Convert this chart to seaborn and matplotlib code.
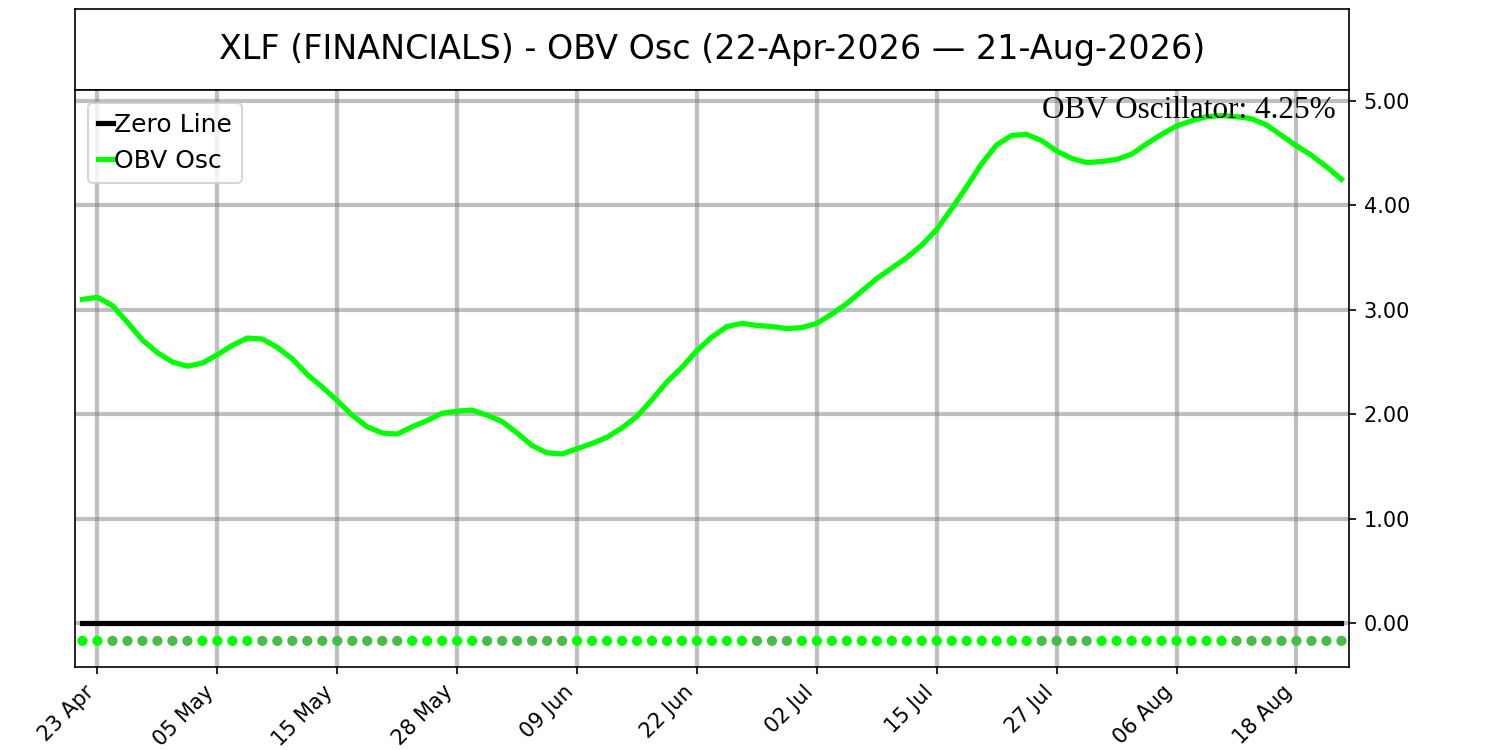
import numpy as np
import pandas as pd
import matplotlib
matplotlib.use("Agg")
import matplotlib.pyplot as plt
import seaborn as sns

# trading days 22-Apr-2026 .. 21-Aug-2026 (US market holidays skipped)
holidays = ["2026-05-25", "2026-06-19", "2026-07-03"]
dates = pd.bdate_range("2026-04-22", "2026-08-21", freq="C", holidays=holidays)

# OBV oscillator values (%)
obv_osc = [3.10, 3.12, 3.04, 2.88, 2.71, 2.59, 2.50, 2.46, 2.49, 2.57,
           2.66, 2.73, 2.72, 2.64, 2.53, 2.38, 2.26, 2.13, 1.99, 1.88,
           1.82, 1.81, 1.88, 1.94, 2.01, 2.03, 2.04, 1.99, 1.93, 1.82,
           1.70, 1.63, 1.62, 1.67, 1.72, 1.78, 1.87, 1.98, 2.14, 2.31,
           2.45, 2.61, 2.74, 2.84, 2.87, 2.85, 2.84, 2.82, 2.83, 2.87,
           2.96, 3.06, 3.18, 3.30, 3.40, 3.50, 3.62, 3.77, 3.97, 4.18,
           4.40, 4.58, 4.67, 4.68, 4.62, 4.52, 4.45, 4.41, 4.42, 4.44,
           4.49, 4.59, 4.68, 4.76, 4.81, 4.85, 4.86, 4.85, 4.83, 4.77,
           4.67, 4.57, 4.48, 4.37, 4.25]

# state of the dot strip under the zero line (1 = bright, 0 = dull)
dot_state = ([1] * 2 + [0] * 6 + [1] * 4 + [0] * 10 + [1] * 5 + [0] * 6 +
             [1] * 12 + [0] * 3 + [1] * 16 + [0] * 4 + [1] * 9 + [0] * 8)

yticks = [0, 1, 2, 3, 4, 5]
tick_every = 8
last_value = obv_osc[-1]

idx = np.arange(len(dates))
df = pd.DataFrame({"i": idx, "obv": obv_osc, "zero": 0.0,
                   "dot": -0.17,
                   "state": ["up" if s else "down" for s in dot_state]})

fig = plt.figure(figsize=(10, 5), dpi=150)
ax_t = fig.add_axes([0.05, 0.88, 0.8493, 0.108])
ax = fig.add_axes([0.05, 0.1107, 0.8493, 0.7693])

# title box
ax_t.set_xticks([])
ax_t.set_yticks([])
ax_t.text(0.5, 0.5, "XLF (FINANCIALS) - OBV Osc (22-Apr-2026 \u2014 21-Aug-2026)",
          ha="center", va="center", fontsize=16, transform=ax_t.transAxes)

ax.set_axisbelow(True)
ax.grid(True, color="grey", alpha=0.5, linewidth=2)

sns.lineplot(data=df, x="i", y="zero", ax=ax, color="black", linewidth=2.5,
             label="Zero Line")
sns.lineplot(data=df, x="i", y="obv", ax=ax, color="#00ff00", linewidth=2.5,
             label="OBV Osc")
sns.scatterplot(data=df, x="i", y="dot", hue="state", ax=ax,
                palette={"up": "#00ff00", "down": "#48bb48"},
                s=24, linewidth=0, legend=False, zorder=3)

ax.text(0.99, 0.99, f"OBV Oscillator: {last_value:.2f}%", transform=ax.transAxes,
        ha="right", va="top", fontsize=15, family="Liberation Serif")

ax.set_xlim(-0.5, len(dates) - 0.5)
ax.set_ylim(-0.42, 5.105)
ax.yaxis.tick_right()
ax.set_yticks(yticks)
ax.set_yticklabels([f"{v:.2f}" for v in yticks])
ticks = idx[1::tick_every]
ax.set_xticks(ticks)
ax.set_xticklabels([dates[t].strftime("%d %b") for t in ticks], rotation=45, ha="right")
ax.set_xlabel("")
ax.set_ylabel("")

ax.legend(loc="upper left", fontsize=12, handlelength=0.6, handletextpad=0.05)

fig.savefig("out.png", dpi=150)
